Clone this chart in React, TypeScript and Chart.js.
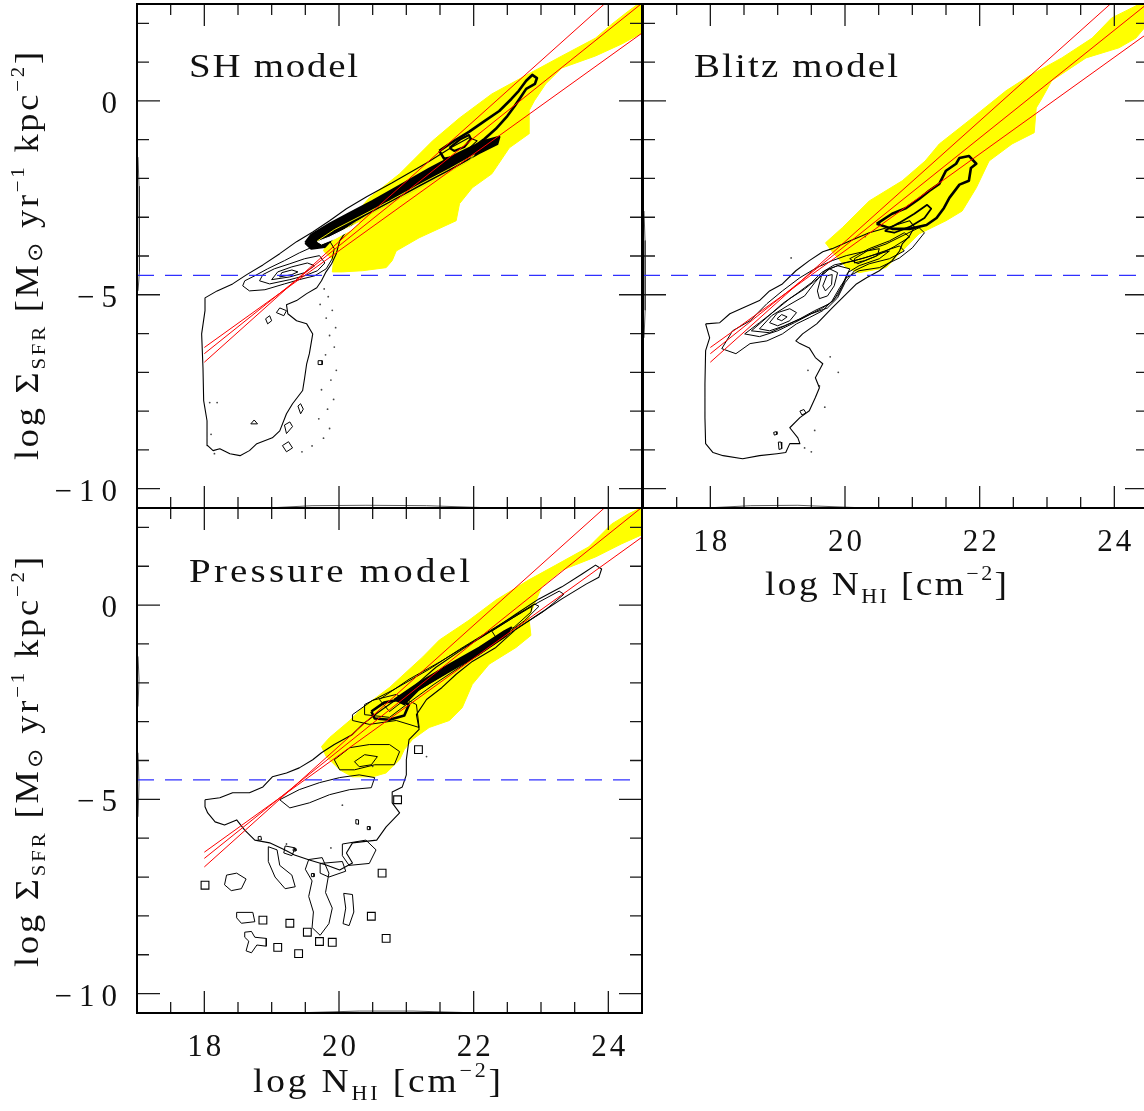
import React, { useEffect, useRef } from 'react';
import { Chart, registerables } from 'chart.js';

Chart.register(...registerables);

type Pt = [number, number];

// ---- axes -------------------------------------------------------------
const X_MIN = 17;
const X_MAX = 24.5;
const Y_MIN = -10.5;
const Y_MAX = 2.5;
const X_MINOR = 0.5;
const Y_MINOR = 1;
const xMajorTicks = [18, 20, 22, 24];
const xTickLabels = ['18', '20', '22', '24'];
const yMajorTicks = [0, -5, -10];
const yTickLabels = ['0', '\u22125', '\u221210'];

// ---- reference relations (same in every panel) -------------------------
const sfrThreshold = -4.5;
const fitStartX = 18;
const fitEndX = 24.5;
const fitStartY = [-6.36, -6.52, -6.74];
const fitEndY = [1.75, 2.52, 3.37];

// ---- SH model -----------------------------------------------------------
const shYellow: Pt[] = [[19.77,-3.87],[19.81,-3.69],[20.11,-3.17],[20.45,-2.50],[20.90,-1.88],[21.39,-1.03],[21.79,-0.44],[22.27,0.18],[22.82,0.70],[23.31,1.16],[23.81,1.62],[24.05,1.98],[24.30,2.32],[24.60,2.70],[24.60,1.85],[24.20,1.47],[23.81,1.16],[23.31,0.85],[23.07,0.44],[22.90,0.00],[22.82,-0.26],[22.82,-0.85],[22.53,-1.21],[22.27,-1.88],[21.98,-2.24],[21.79,-2.65],[21.74,-3.09],[21.19,-3.53],[20.85,-3.87],[20.79,-4.12],[20.70,-4.30],[20.35,-4.38],[20.05,-4.41],[19.90,-4.41],[19.92,-4.12],[19.77,-3.87]];
const shOuter: Pt[] = [[18.01,-5.08],[18.19,-4.90],[18.42,-4.72],[18.63,-4.48],[18.87,-4.23],[19.12,-3.94],[19.37,-3.63],[19.61,-3.38],[19.86,-3.09],[20.11,-2.78],[20.41,-2.47],[20.79,-2.11],[21.30,-1.60],[21.68,-1.19],[21.93,-0.95],[22.05,-1.03],[21.86,-1.34],[21.49,-1.70],[21.16,-2.01],[20.87,-2.32],[20.60,-2.65],[20.33,-2.96],[20.13,-3.30],[20.01,-3.61],[19.96,-3.94],[19.89,-4.20],[19.80,-4.43],[19.74,-4.64],[19.67,-4.82],[19.52,-4.97],[19.37,-5.15],[19.22,-5.26],[19.24,-5.49],[19.37,-5.67],[19.52,-5.75],[19.61,-6.01],[19.56,-6.52],[19.52,-6.78],[19.49,-7.14],[19.46,-7.47],[19.31,-7.81],[19.22,-8.07],[19.12,-8.51],[19.01,-8.69],[18.78,-8.84],[18.67,-9.02],[18.53,-9.15],[18.38,-9.10],[18.23,-8.97],[18.13,-9.02],[18.05,-8.89],[18.04,-8.25],[17.99,-7.73],[17.98,-6.89],[17.96,-6.01],[18.01,-5.41],[18.01,-5.08]];
const shLevel2: Pt[] = [[18.57,-4.77],[18.67,-4.90],[18.90,-4.87],[19.19,-4.72],[19.41,-4.61],[19.64,-4.51],[19.81,-4.33],[19.90,-4.07],[19.93,-3.81],[19.86,-3.61],[19.64,-3.74],[19.41,-3.92],[19.19,-4.12],[18.94,-4.33],[18.75,-4.51],[18.60,-4.64],[18.57,-4.77]];
const shLevel3: Pt[] = [[18.82,-4.64],[18.97,-4.72],[19.27,-4.61],[19.49,-4.51],[19.68,-4.38],[19.79,-4.18],[19.71,-3.99],[19.49,-4.07],[19.27,-4.20],[19.04,-4.33],[18.87,-4.48],[18.82,-4.64]];
const shLevel4: Pt[] = [[19.00,-4.61],[19.27,-4.54],[19.49,-4.43],[19.64,-4.25],[19.53,-4.18],[19.30,-4.28],[19.09,-4.41],[19.00,-4.61]];
const shLevel5: Pt[] = [[19.12,-4.54],[19.30,-4.48],[19.39,-4.41],[19.30,-4.36],[19.15,-4.43],[19.12,-4.54]];
const shBandOuter: Pt[] = [[19.50,-3.66],[19.59,-3.45],[19.86,-3.17],[20.16,-2.89],[20.50,-2.58],[20.90,-2.19],[21.34,-1.75],[21.79,-1.34],[22.16,-1.03],[22.38,-0.93],[22.35,-1.11],[22.08,-1.34],[21.71,-1.70],[21.27,-2.11],[20.82,-2.53],[20.38,-2.94],[20.01,-3.35],[19.79,-3.76],[19.59,-3.81],[19.50,-3.66]];
const shBandInner: Pt[] = [[19.68,-3.61],[19.93,-3.32],[20.30,-2.99],[20.75,-2.58],[21.19,-2.16],[21.64,-1.75],[22.01,-1.39],[21.93,-1.55],[21.56,-1.91],[21.12,-2.32],[20.67,-2.73],[20.23,-3.14],[19.93,-3.51],[19.74,-3.69],[19.68,-3.61]];
const shBandCore: Pt[] = [[19.68,-3.63],[19.86,-3.51],[20.08,-3.32],[20.30,-3.14],[20.19,-3.32],[19.93,-3.56],[19.74,-3.69],[19.68,-3.63]];
const shRidge: Pt[] = [[21.49,-1.29],[21.71,-1.03],[21.93,-0.80],[22.16,-0.52],[22.38,-0.26],[22.56,0.05],[22.67,0.26],[22.78,0.52],[22.87,0.67],[22.94,0.59],[22.91,0.44],[22.78,0.31],[22.70,0.10],[22.61,-0.13],[22.50,-0.39],[22.33,-0.72],[22.16,-0.98],[21.96,-1.24],[21.79,-1.42],[21.56,-1.49],[21.49,-1.29]];
const shRidgeCore: Pt[] = [[21.64,-1.21],[21.81,-0.98],[21.93,-0.88],[21.96,-0.98],[21.86,-1.19],[21.71,-1.29],[21.64,-1.21]];
const shIslands: Pt[][] = [
  [[19.07,-5.46],[19.12,-5.34],[19.22,-5.41],[19.18,-5.54],[19.07,-5.46]],
  [[18.91,-5.62],[18.97,-5.54],[19.00,-5.67],[18.94,-5.75],[18.91,-5.62]],
  [[19.69,-6.70],[19.75,-6.70],[19.75,-6.80],[19.69,-6.80],[19.69,-6.70]],
  [[18.69,-8.33],[18.74,-8.23],[18.79,-8.33],[18.69,-8.33]],
  [[19.39,-7.87],[19.43,-7.81],[19.47,-7.95],[19.43,-8.07],[19.39,-7.87]],
  [[19.19,-8.36],[19.27,-8.28],[19.31,-8.40],[19.22,-8.58],[19.19,-8.36]],
  [[19.16,-8.89],[19.25,-8.79],[19.31,-8.95],[19.22,-9.05],[19.16,-8.89]],
];
const shDots: Pt[] = [[19.78,-4.85],[19.84,-5.05],[19.72,-5.25],[19.90,-5.40],[19.81,-5.60],[19.95,-5.85],[19.86,-6.05],[19.93,-6.35],[19.80,-6.55],[19.96,-6.95],[19.88,-7.20],[19.74,-7.45],[19.92,-7.70],[19.83,-7.95],[19.70,-8.20],[19.86,-8.45],[19.77,-8.70],[19.60,-8.90],[19.45,-9.05],[18.10,-8.60],[18.15,-9.10],[18.08,-7.78],[18.19,-7.78]];
const shMargins: Pt[][] = [
  [[17.015,-1.45],[17.03,-2.2],[17.04,-3.0],[17.04,-3.8],[17.03,-4.4],[17.015,-4.9]],
  [[19.05,-10.49],[19.6,-10.44],[20.4,-10.43],[21.3,-10.44],[22.15,-10.49]],
];

// ---- Blitz model ----------------------------------------------------------
const blitzYellow: Pt[] = [[19.71,-3.66],[19.96,-3.27],[20.36,-2.58],[20.85,-2.06],[21.19,-1.55],[21.40,-1.11],[21.89,-0.44],[22.39,0.26],[22.73,0.64],[23.22,1.11],[23.67,1.62],[23.96,2.14],[24.26,2.40],[24.60,2.70],[24.60,2.20],[24.32,1.62],[24.07,1.37],[23.58,1.11],[23.07,0.52],[22.93,0.08],[22.84,-0.18],[22.81,-0.82],[22.48,-1.11],[22.14,-1.55],[21.95,-2.24],[21.74,-2.84],[21.50,-3.09],[21.10,-3.43],[20.81,-3.94],[20.61,-4.30],[20.21,-4.43],[20.02,-4.30],[19.80,-3.87],[19.71,-3.66]];
const blitzOuter: Pt[] = [[17.93,-5.75],[18.14,-5.72],[18.29,-5.49],[18.48,-5.34],[18.73,-5.15],[18.88,-4.90],[19.07,-4.72],[19.27,-4.38],[19.47,-4.12],[19.67,-3.89],[19.81,-3.81],[20.07,-3.61],[20.36,-3.40],[20.66,-3.25],[20.96,-3.09],[21.03,-3.25],[20.96,-3.48],[20.85,-3.69],[20.81,-3.87],[20.70,-4.12],[20.51,-4.38],[20.32,-4.56],[20.17,-4.72],[19.96,-5.08],[19.81,-5.34],[19.58,-5.75],[19.37,-6.01],[19.27,-6.19],[19.33,-6.26],[19.47,-6.37],[19.56,-6.62],[19.67,-6.78],[19.56,-7.14],[19.62,-7.40],[19.56,-7.65],[19.47,-7.99],[19.33,-8.17],[19.18,-8.43],[19.30,-8.69],[19.33,-8.84],[19.18,-8.84],[19.12,-9.07],[18.99,-9.10],[18.73,-9.15],[18.48,-9.23],[18.19,-9.15],[18.04,-9.07],[17.93,-8.84],[17.92,-8.17],[17.92,-7.29],[17.93,-6.44],[17.99,-6.11],[17.93,-5.75]];
const blitzLevel2: Pt[] = [[18.17,-6.39],[18.33,-5.93],[18.59,-5.67],[18.84,-5.23],[19.07,-4.90],[19.33,-4.56],[19.58,-4.30],[19.81,-4.12],[20.02,-3.99],[20.32,-3.87],[20.61,-3.69],[20.91,-3.43],[21.10,-3.27],[21.18,-3.40],[21.00,-3.79],[20.81,-4.05],[20.51,-4.30],[20.21,-4.38],[20.02,-4.56],[19.92,-4.82],[19.81,-5.15],[19.67,-5.41],[19.47,-5.59],[19.28,-5.75],[19.07,-6.01],[18.84,-6.19],[18.59,-6.26],[18.38,-6.52],[18.17,-6.39]];
const blitzLevel3: Pt[] = [[18.51,-6.01],[18.73,-5.72],[18.96,-5.41],[19.18,-5.10],[19.40,-4.85],[19.59,-4.59],[19.77,-4.33],[20.00,-4.18],[20.29,-4.05],[20.59,-3.87],[20.81,-3.74],[20.88,-3.87],[20.66,-4.07],[20.36,-4.20],[20.14,-4.38],[20.00,-4.69],[19.89,-5.08],[19.74,-5.34],[19.50,-5.49],[19.25,-5.72],[19.00,-5.93],[18.73,-6.08],[18.51,-6.01]];
const blitzLevel3b: Pt[] = [[18.61,-5.93],[18.85,-5.57],[19.07,-5.23],[19.30,-4.95],[19.50,-4.69],[19.65,-4.43],[19.84,-4.23],[20.14,-4.12],[20.44,-3.97],[20.66,-3.87],[20.51,-4.07],[20.21,-4.25],[20.04,-4.43],[19.95,-4.79],[19.83,-5.15],[19.65,-5.36],[19.40,-5.57],[19.15,-5.77],[18.88,-5.98],[18.61,-5.93]];
const blitzLevel4: Pt[] = [[18.73,-5.88],[18.91,-5.54],[19.15,-5.28],[19.40,-5.03],[19.55,-4.69],[19.70,-4.38],[19.89,-4.25],[20.07,-4.33],[20.00,-4.64],[19.89,-5.03],[19.77,-5.23],[19.55,-5.41],[19.33,-5.62],[19.10,-5.80],[18.88,-5.93],[18.73,-5.88]];
const blitzLevel5: Pt[] = [[18.88,-5.72],[19.00,-5.46],[19.18,-5.36],[19.28,-5.46],[19.18,-5.67],[19.00,-5.80],[18.88,-5.72]];
const blitzLevel6: Pt[] = [[18.99,-5.62],[19.06,-5.51],[19.14,-5.57],[19.06,-5.67],[18.99,-5.62]];
const blitzPeakA: Pt[] = [[19.59,-4.90],[19.65,-4.51],[19.77,-4.33],[19.89,-4.43],[19.84,-4.77],[19.74,-5.03],[19.62,-5.10],[19.59,-4.90]];
const blitzPeakB: Pt[] = [[19.67,-4.77],[19.73,-4.51],[19.81,-4.48],[19.80,-4.74],[19.71,-4.90],[19.67,-4.77]];
const blitzPeakC: Pt[] = [[20.14,-4.07],[20.33,-3.87],[20.51,-3.81],[20.48,-3.99],[20.29,-4.12],[20.14,-4.18],[20.14,-4.07]];
const blitzUpper: Pt[] = [[20.07,-4.07],[20.36,-3.81],[20.66,-3.61],[20.88,-3.40],[20.96,-3.51],[20.73,-3.76],[20.44,-4.02],[20.19,-4.20],[20.07,-4.07]];
const blitzRidge: Pt[] = [[20.47,-3.17],[20.70,-2.91],[20.91,-2.76],[21.10,-2.53],[21.25,-2.32],[21.40,-2.14],[21.50,-1.80],[21.65,-1.62],[21.70,-1.47],[21.84,-1.42],[21.95,-1.62],[21.87,-1.73],[21.84,-2.06],[21.70,-2.16],[21.55,-2.50],[21.47,-2.76],[21.36,-3.02],[21.21,-3.20],[20.96,-3.30],[20.70,-3.30],[20.47,-3.17]];
const blitzRidgeCore: Pt[] = [[20.59,-3.35],[20.81,-3.14],[21.03,-2.91],[21.22,-2.68],[21.28,-2.78],[21.18,-3.02],[20.96,-3.25],[20.73,-3.40],[20.59,-3.35]];
const blitzIslands: Pt[][] = [
  [[19.33,-8.0],[19.39,-7.96],[19.42,-8.05],[19.36,-8.1],[19.33,-8.0]],
  [[18.94,-8.55],[18.98,-8.53],[18.99,-8.6],[18.95,-8.62],[18.94,-8.55]],
  [[19.01,-8.80],[19.05,-8.80],[19.06,-8.97],[19.02,-8.99],[19.01,-8.80]],
];
const blitzDots: Pt[] = [[19.45,-6.95],[19.62,-7.35],[19.70,-7.9],[19.55,-8.5],[19.4,-8.95],[19.5,-9.05],[19.78,-6.6],[19.2,-4.05],[19.9,-7.0],[20.3,-3.5]];
const blitzMargins: Pt[][] = [
  [[17.015,-2.84],[17.03,-3.6],[17.035,-4.5],[17.03,-5.4],[17.015,-6.11]],
  [[18.04,-10.49],[18.6,-10.44],[19.3,-10.43],[20.18,-10.49]],
];

// ---- Pressure model -------------------------------------------------------
const pressureYellow: Pt[] = [[19.74,-3.64],[19.86,-3.41],[20.16,-2.97],[20.35,-2.64],[20.75,-2.12],[21.24,-1.34],[21.49,-0.90],[21.93,-0.39],[22.33,0.13],[22.82,0.65],[23.22,1.03],[23.71,1.50],[24.05,2.09],[24.30,2.35],[24.60,2.60],[24.60,1.89],[24.20,1.58],[23.81,1.24],[23.31,0.90],[23.01,0.47],[22.93,0.13],[22.82,-0.31],[22.85,-0.78],[22.63,-1.09],[22.23,-1.52],[21.98,-2.04],[21.83,-2.64],[21.64,-2.97],[21.34,-3.15],[21.09,-3.46],[20.97,-3.72],[20.90,-3.98],[20.70,-4.32],[20.50,-4.42],[20.20,-4.42],[20.01,-4.24],[19.81,-3.90],[19.74,-3.64]];
const pressureOuter: Pt[] = [[18.01,-5.01],[18.23,-4.96],[18.42,-4.83],[18.67,-4.83],[18.87,-4.68],[19.01,-4.42],[19.22,-4.32],[19.41,-4.19],[19.61,-3.98],[19.74,-3.80],[19.93,-3.59],[20.20,-3.33],[20.35,-3.07],[20.60,-2.74],[20.85,-2.43],[21.15,-2.04],[21.44,-1.60],[21.83,-1.14],[22.23,-0.70],[22.63,-0.23],[22.97,0.16],[23.31,0.47],[23.61,0.80],[23.81,1.03],[23.90,0.93],[23.86,0.72],[23.67,0.54],[23.31,0.16],[22.97,-0.23],[22.63,-0.62],[22.33,-1.09],[21.98,-1.45],[21.74,-1.78],[21.53,-2.12],[21.30,-2.43],[21.15,-2.82],[21.19,-3.20],[21.04,-3.46],[21.00,-3.98],[21.00,-4.37],[20.94,-4.68],[20.79,-4.81],[20.79,-5.09],[20.90,-5.35],[20.70,-5.71],[20.56,-6.05],[20.20,-6.12],[20.11,-6.38],[20.20,-6.64],[20.01,-6.82],[19.81,-6.69],[19.56,-6.56],[19.34,-6.43],[19.19,-6.30],[18.97,-6.12],[18.75,-6.05],[18.60,-5.79],[18.48,-5.53],[18.30,-5.66],[18.16,-5.58],[18.05,-5.35],[18.01,-5.19],[18.01,-5.01]];
const pressureBox: Pt[] = [[20.20,-2.82],[20.50,-2.45],[20.85,-2.30],[21.15,-2.56],[21.19,-3.15],[21.04,-3.07],[20.85,-2.97],[20.45,-3.07],[20.20,-2.97],[20.20,-2.82]];
const pressureKnot: Pt[] = [[20.48,-2.74],[20.67,-2.51],[20.90,-2.43],[21.04,-2.56],[20.97,-2.84],[20.75,-2.95],[20.53,-2.92],[20.48,-2.74]];
const pressureBandCore: Pt[] = [[20.82,-2.43],[21.19,-1.99],[21.64,-1.52],[22.08,-1.09],[22.45,-0.67],[22.56,-0.57],[22.48,-0.80],[22.08,-1.27],[21.64,-1.71],[21.19,-2.17],[20.97,-2.56],[20.82,-2.43]];
const pressureBandMid: Pt[] = [[20.60,-2.43],[21.04,-1.91],[21.49,-1.47],[21.93,-1.01],[22.38,-0.54],[22.67,-0.23],[22.90,0.03],[22.97,-0.03],[22.75,-0.41],[22.38,-0.88],[21.93,-1.40],[21.49,-1.86],[21.04,-2.35],[20.75,-2.74],[20.60,-2.43]];
const pressureBandWide: Pt[] = [[20.38,-2.56],[20.82,-2.17],[21.34,-1.65],[21.79,-1.14],[22.23,-0.67],[22.60,-0.28],[22.97,0.08],[23.27,0.36],[23.34,0.28],[23.04,-0.16],[22.67,-0.57],[22.30,-1.01],[21.86,-1.52],[21.41,-2.04],[21.04,-2.51],[20.75,-2.89],[20.38,-2.82],[20.38,-2.56]];
const pressureUpperLoop: Pt[] = [[22.27,-0.67],[22.60,-0.31],[22.87,-0.03],[22.85,-0.18],[22.60,-0.57],[22.33,-0.83],[22.27,-0.67]];
const pressureLowerLoops: Pt[][] = [
  [[19.93,-3.98],[20.16,-3.67],[20.45,-3.59],[20.75,-3.59],[20.90,-3.77],[20.82,-4.11],[20.53,-4.11],[20.23,-4.24],[20.01,-4.24],[19.93,-3.98]],
  [[20.23,-4.03],[20.38,-3.85],[20.57,-3.90],[20.48,-4.11],[20.30,-4.16],[20.23,-4.03]],
  [[19.12,-5.01],[19.41,-4.75],[19.71,-4.57],[20.01,-4.44],[20.30,-4.37],[20.53,-4.44],[20.48,-4.70],[20.16,-4.75],[19.86,-4.88],[19.56,-5.09],[19.27,-5.22],[19.12,-5.01]],
];
const pressureBlobs: Pt[][] = [
  [[18.48,-7.91],[18.72,-7.91],[18.75,-8.15],[18.55,-8.19],[18.48,-8.05],[18.48,-7.91]],
  [[18.60,-8.42],[18.70,-8.40],[18.75,-8.55],[18.92,-8.58],[18.92,-8.78],[18.78,-8.75],[18.70,-8.95],[18.62,-8.90],[18.66,-8.65],[18.60,-8.55],[18.60,-8.42]],
  [[18.95,-6.22],[19.08,-6.30],[19.12,-6.70],[19.30,-6.95],[19.35,-7.25],[19.20,-7.30],[19.05,-7.00],[18.95,-6.60],[18.95,-6.22]],
  [[18.33,-6.95],[18.48,-6.90],[18.62,-7.05],[18.55,-7.30],[18.40,-7.35],[18.30,-7.20],[18.33,-6.95]],
  [[19.55,-6.55],[19.75,-6.50],[19.85,-6.90],[19.80,-7.40],[19.90,-7.80],[19.85,-8.20],[19.72,-8.50],[19.60,-8.30],[19.62,-7.90],[19.55,-7.50],[19.60,-7.10],[19.50,-6.80],[19.55,-6.55]],
  [[20.07,-7.42],[20.20,-7.45],[20.22,-7.90],[20.15,-8.25],[20.06,-8.20],[20.10,-7.80],[20.07,-7.42]],
  [[19.72,-6.65],[20.05,-6.60],[20.10,-6.85],[19.85,-7.00],[19.72,-6.90],[19.72,-6.65]],
  [[20.05,-6.15],[20.40,-6.05],[20.55,-6.30],[20.45,-6.65],[20.15,-6.70],[20.05,-6.45],[20.05,-6.15]],
  [[19.20,-6.20],[19.35,-6.25],[19.30,-6.45],[19.18,-6.38],[19.20,-6.20]],
  [[18.80,-5.96],[18.84,-5.95],[18.85,-6.04],[18.81,-6.05],[18.80,-5.96]],
  [[20.25,-5.52],[20.29,-5.53],[20.29,-5.64],[20.25,-5.63],[20.25,-5.52]],
  [[19.32,-6.27],[19.36,-6.27],[19.36,-6.33],[19.32,-6.33],[19.32,-6.27]],
  [[19.59,-6.91],[19.63,-6.91],[19.63,-6.99],[19.59,-6.99],[19.59,-6.91]],
  [[20.42,-5.70],[20.46,-5.70],[20.46,-5.78],[20.42,-5.78],[20.42,-5.70]],
];
const pressureSquares: Pt[] = [[18.01,-7.21],[21.18,-3.72],[20.87,-5.01],[20.64,-6.90],[20.48,-8.01],[20.70,-8.58],[19.53,-8.42],[19.71,-8.66],[19.90,-8.68],[19.27,-8.19],[18.87,-8.11],[19.09,-8.81],[19.40,-8.97]];
const pressureDots: Pt[] = [[19.22,-6.15],[19.88,-6.25],[20.05,-5.15],[21.3,-3.9],[20.5,-4.15]];
const pressureMargins: Pt[][] = [
  [[17.015,-1.32],[17.03,-1.9],[17.015,-2.61]],
  [[17.015,-3.80],[17.03,-4.6],[17.015,-5.45]],
  [[19.5,-10.49],[20.3,-10.45],[21.1,-10.45],[21.9,-10.49]],
];

// ---- dataset builders ---------------------------------------------------
const toXY = (pts: Pt[]) => pts.map(([x, y]) => ({ x, y }));

const region = (pts: Pt[], color = '#ffff00', order = 10) => ({
  data: toXY(pts), borderColor: color, backgroundColor: color,
  borderWidth: 1, pointRadius: 0, fill: 'shape', order,
});
const contour = (pts: Pt[], w = 1, color = '#000', order = 5) => ({
  data: toXY(pts), borderColor: color, borderWidth: w, pointRadius: 0,
  fill: false, order, borderJoinStyle: 'round',
});
const solid = (pts: Pt[], w = 2) => ({
  data: toXY(pts), borderColor: '#000', backgroundColor: '#000', borderWidth: w,
  pointRadius: 0, fill: 'shape', order: 5, borderJoinStyle: 'round',
});
const dots = (pts: Pt[]) => ({
  data: toXY(pts), showLine: false, pointRadius: 0.9,
  pointBackgroundColor: '#444', pointBorderWidth: 0, order: 6,
});
const squares = (pts: Pt[]) => ({
  data: toXY(pts), showLine: false, pointStyle: 'rect', pointRadius: 5.5,
  pointBorderColor: '#000', pointBackgroundColor: 'rgba(0,0,0,0)',
  pointBorderWidth: 1.1, order: 5,
});
const fitLines = () => fitStartY.map((y0, i) => ({
  data: [{ x: fitStartX, y: y0 }, { x: fitEndX, y: fitEndY[i] }],
  borderColor: '#ff0000', borderWidth: 1, pointRadius: 0, fill: false, order: 2,
}));
const thresholdLine = () => ({
  data: [{ x: X_MIN, y: sfrThreshold }, { x: X_MAX, y: sfrThreshold }],
  borderColor: '#3030ff', borderWidth: 1.2, borderDash: [17, 11],
  pointRadius: 0, fill: false, order: 1,
});

// ---- text helpers -----------------------------------------------------------
const SERIF = '"Liberation Serif", serif';
type Seg = { t: string; size: number; dy?: number };

// Draws a run of text segments with glyphs widened by `stretch`, spreading any
// remaining room evenly between glyphs so the run covers the requested width.
function drawRich(ctx: CanvasRenderingContext2D, segs: Seg[], x: number, y: number,
  width: number, align: 'left' | 'center', rotate = false, stretch = 1.15) {
  ctx.save();
  const glyphs: { c: string; size: number; dy: number; w: number }[] = [];
  segs.forEach((s) => {
    ctx.font = `${s.size}px ${SERIF}`;
    Array.from(s.t).forEach((c) => glyphs.push({ c, size: s.size, dy: s.dy ?? 0, w: ctx.measureText(c).width }));
  });
  const natural = glyphs.reduce((a, g) => a + g.w, 0);
  const k = Math.min(stretch, width / natural);
  const inner = width / k;
  const gap = glyphs.length > 1 ? (inner - natural) / (glyphs.length - 1) : 0;
  ctx.translate(x, y);
  if (rotate) ctx.rotate(-Math.PI / 2);
  ctx.scale(k, 1);
  ctx.textAlign = 'left';
  ctx.textBaseline = 'alphabetic';
  ctx.fillStyle = '#111';
  let cx = align === 'center' ? -inner / 2 : 0;
  glyphs.forEach((g) => {
    ctx.font = `${g.size}px ${SERIF}`;
    ctx.fillText(g.c, cx, g.dy);
    cx += g.w + gap;
  });
  ctx.restore();
}

function drawSpaced(ctx: CanvasRenderingContext2D, text: string, x: number, y: number,
  gap: number, align: 'right' | 'center') {
  ctx.save();
  ctx.font = `31px ${SERIF}`;
  ctx.fillStyle = '#111';
  ctx.textAlign = 'left';
  ctx.textBaseline = 'alphabetic';
  const chars = Array.from(text);
  const ws = chars.map((c) => ctx.measureText(c).width);
  const total = ws.reduce((a, b) => a + b, 0) + gap * (chars.length - 1);
  let cx = align === 'right' ? x - total : x - total / 2;
  chars.forEach((c, i) => { ctx.fillText(c, cx, y); cx += ws[i] + gap; });
  ctx.restore();
}

const yTitle: Seg[] = [
  { t: 'log ', size: 33 }, { t: '\u03A3', size: 33 }, { t: 'SFR', size: 19, dy: 7 },
  { t: ' [M', size: 33 }, { t: '\u2299', size: 21, dy: 4 }, { t: ' yr', size: 33 },
  { t: '\u22121', size: 19, dy: -14 }, { t: ' kpc', size: 33 },
  { t: '\u22122', size: 19, dy: -14 }, { t: ']', size: 33 },
];
const xTitle: Seg[] = [
  { t: 'log N', size: 34 }, { t: 'HI', size: 20, dy: 8 }, { t: ' [cm', size: 34 },
  { t: '\u22122', size: 20, dy: -15 }, { t: ']', size: 34 },
];

// ---- panels -----------------------------------------------------------------
const CANVAS_W = 1160;
const CANVAS_H = 1111;

interface PanelSpec {
  key: string;
  padding: { left: number; top: number; right: number; bottom: number };
  name: string; nameX: number; nameBase: number; nameW: number;
  yAxis?: { center: number; width: number };
  xAxis?: { labelBase: number; titleCenter: number; titleBase: number; titleW: number };
  datasets: any[];
}

const panels: PanelSpec[] = [
  {
    key: 'sh',
    padding: { left: 137, top: 3, right: CANVAS_W - 642, bottom: CANVAS_H - 508 },
    name: 'SH model', nameX: 189, nameBase: 77, nameW: 169,
    yAxis: { center: 256, width: 408 },
    datasets: [
      region(shYellow),
      contour(shOuter, 1.1),
      contour(shLevel2), contour(shLevel3), contour(shLevel4), contour(shLevel5),
      solid(shBandOuter, 2.4),
      contour(shBandInner, 1, '#e8e800', 4),
      region(shBandCore, '#ffffff', 3),
      contour(shRidge, 2.6), contour(shRidgeCore, 2.2),
      ...shIslands.map((p) => contour(p)),
      ...shMargins.map((p) => contour(p, 0.8, '#333')),
      dots(shDots),
      ...fitLines(), thresholdLine(),
    ],
  },
  {
    key: 'blitz',
    padding: { left: 643, top: 3, right: CANVAS_W - 1148, bottom: CANVAS_H - 508 },
    name: 'Blitz model', nameX: 694, nameBase: 77, nameW: 204,
    xAxis: { labelBase: 551, titleCenter: 886, titleBase: 595, titleW: 242 },
    datasets: [
      region(blitzYellow),
      contour(blitzOuter, 1.1),
      contour(blitzLevel2), contour(blitzLevel3), contour(blitzLevel3b), contour(blitzLevel4),
      contour(blitzLevel5), contour(blitzLevel6),
      contour(blitzPeakA), contour(blitzPeakB), contour(blitzPeakC), contour(blitzUpper),
      contour(blitzRidge, 2.6), contour(blitzRidgeCore, 1.8),
      ...blitzIslands.map((p) => contour(p)),
      ...blitzMargins.map((p) => contour(p, 0.8, '#333')),
      dots(blitzDots),
      ...fitLines(), thresholdLine(),
    ],
  },
  {
    key: 'pressure',
    padding: { left: 137, top: 508, right: CANVAS_W - 642, bottom: CANVAS_H - 1013 },
    name: 'Pressure model', nameX: 189, nameBase: 582, nameW: 281,
    yAxis: { center: 762, width: 410 },
    xAxis: { labelBase: 1056, titleCenter: 377, titleBase: 1092, titleW: 248 },
    datasets: [
      region(pressureYellow),
      contour(pressureOuter, 1.1),
      contour(pressureBox), contour(pressureKnot, 2.6), solid(pressureBandCore, 1.6),
      contour(pressureBandMid), contour(pressureBandWide), contour(pressureUpperLoop),
      ...pressureLowerLoops.map((p) => contour(p)),
      ...pressureBlobs.map((p) => contour(p)),
      ...pressureMargins.map((p) => contour(p, 0.8, '#333')),
      squares(pressureSquares),
      dots(pressureDots),
      ...fitLines(), thresholdLine(),
    ],
  },
];

// Frame with inward ticks on all four sides, tick labels, axis titles and panel name.
function framePlugin(spec: PanelSpec) {
  return {
    id: 'frameAxes',
    afterDraw(chart: any) {
      const ctx: CanvasRenderingContext2D = chart.ctx;
      const a = chart.chartArea;
      const xs = chart.scales.x;
      const ys = chart.scales.y;
      ctx.save();
      ctx.strokeStyle = '#1a1a1a';
      ctx.lineWidth = 1.3;
      ctx.beginPath();
      for (let v = X_MIN + X_MINOR; v < X_MAX - 1e-6; v += X_MINOR) {
        const major = xMajorTicks.some((m) => Math.abs(m - v) < 1e-6);
        const len = major ? 22 : 11;
        const px = xs.getPixelForValue(v);
        ctx.moveTo(px, a.bottom); ctx.lineTo(px, a.bottom - len);
        ctx.moveTo(px, a.top); ctx.lineTo(px, a.top + len);
      }
      for (let v = Math.ceil(Y_MIN); v <= Math.floor(Y_MAX); v += Y_MINOR) {
        const major = yMajorTicks.includes(v);
        const len = major ? 23 : 12;
        const py = ys.getPixelForValue(v);
        ctx.moveTo(a.left, py); ctx.lineTo(a.left + len, py);
        ctx.moveTo(a.right, py); ctx.lineTo(a.right - len, py);
      }
      ctx.stroke();
      ctx.lineWidth = 2;
      ctx.strokeStyle = '#000';
      ctx.strokeRect(a.left, a.top, a.right - a.left, a.bottom - a.top);
      ctx.restore();

      if (spec.yAxis) {
        yMajorTicks.forEach((v, i) => {
          drawSpaced(ctx, yTickLabels[i], 117, ys.getPixelForValue(v) + 12, 7, 'right');
        });
        drawRich(ctx, yTitle, 38, spec.yAxis.center, spec.yAxis.width, 'center', true, 1.1);
      }
      if (spec.xAxis) {
        xMajorTicks.forEach((v, i) => {
          drawSpaced(ctx, xTickLabels[i], xs.getPixelForValue(v), spec.xAxis!.labelBase, 3, 'center');
        });
        drawRich(ctx, xTitle, spec.xAxis.titleCenter, spec.xAxis.titleBase, spec.xAxis.titleW, 'center', false, 1.1);
      }
      drawRich(ctx, [{ t: spec.name, size: 33 }], spec.nameX, spec.nameBase, spec.nameW, 'left', false, 1.18);
    },
  };
}

function Panel({ spec }: { spec: PanelSpec }) {
  const ref = useRef<HTMLCanvasElement>(null);
  useEffect(() => {
    if (!ref.current) return;
    const chart = new Chart(ref.current, {
      type: 'line',
      data: { datasets: spec.datasets },
      options: {
        animation: false,
        responsive: false,
        devicePixelRatio: 1,
        events: [],
        layout: { padding: spec.padding },
        plugins: { legend: { display: false }, tooltip: { enabled: false } },
        elements: { point: { radius: 0 }, line: { tension: 0 } },
        scales: {
          x: { type: 'linear', min: X_MIN, max: X_MAX, display: false },
          y: { type: 'linear', min: Y_MIN, max: Y_MAX, display: false },
        },
      } as any,
      plugins: [framePlugin(spec)],
    });
    return () => chart.destroy();
  }, [spec]);
  return (
    <canvas
      ref={ref}
      width={CANVAS_W}
      height={CANVAS_H}
      style={{ position: 'absolute', left: 0, top: 0, width: CANVAS_W, height: CANVAS_H }}
    />
  );
}

export default function App() {
  return (
    <div style={{ position: 'fixed', left: 0, top: 0, width: 1144, height: 1111, overflow: 'hidden', background: '#fff' }}>
      {panels.map((p) => <Panel key={p.key} spec={p} />)}
    </div>
  );
}
